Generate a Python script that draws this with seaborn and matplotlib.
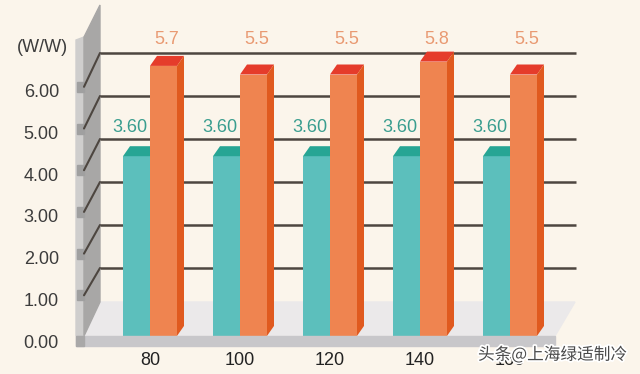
import pandas as pd
import matplotlib
matplotlib.use("Agg")
import matplotlib.pyplot as plt
import matplotlib.patheffects as pe
from matplotlib.patches import Polygon
from matplotlib.lines import Line2D
from matplotlib.transforms import Affine2D
import seaborn as sns

# data
categories = ["80", "100", "120", "140", "160"]
series_names = ["A", "B"]
values_a = [3.60, 3.60, 3.60, 3.60, 3.60]
values_b = [5.7, 5.5, 5.5, 5.8, 5.5]
labels_a = ["3.60", "3.60", "3.60", "3.60", "3.60"]
labels_b = ["5.7", "5.5", "5.5", "5.8", "5.5"]
front_ticks = [0, 1, 2, 3, 4, 5, 6]
front_tick_labels = ["0.00", "1.00", "2.00", "3.00", "4.00", "5.00", "6.00"]
grid_values = [1, 2, 3, 4, 5, 6]
unit_label = "(W/W)"
watermark = "头条@上海绿适制冷"

BG = "#fbf5eb"
TEAL, TEAL_TOP = "#5cbfbc", "#27a594"
ORANGE, ORANGE_TOP, ORANGE_SIDE = "#ef8450", "#e53c2b", "#e05a1f"
GRID = "#4d4640"
FLOOR = -0.58          # bars start at the front edge of the floor
DX, DY = 7 / 90, 10 / 43   # depth offset in data units

sns.set_style("white")
plt.rcParams["font.family"] = ["Liberation Sans", "DejaVu Sans"]

W, H = 640, 374
fig = plt.figure(figsize=(W / 100, H / 100), dpi=100, facecolor=BG)
# pixel coords, origin top-left
px = Affine2D().scale(1 / 100, -1 / 100).translate(0, H / 100) + fig.dpi_scale_trans

left_px, bottom_px = 70, 346
ax = fig.add_axes([left_px / W, (H - bottom_px) / H, 1 - left_px / W, bottom_px / H])
ax.set_facecolor("none")

df = pd.DataFrame({
    "cat": categories * 2,
    "val": values_a + values_b,
    "series": [series_names[0]] * len(categories) + [series_names[1]] * len(categories),
})
sns.barplot(data=df, x="cat", y="val", hue="series", order=categories,
            palette=[TEAL, ORANGE], width=0.6, saturation=1, legend=False,
            linewidth=0, ax=ax)

# back-wall scale: 0 at y=311px, 43 px per unit; group spacing 90 px
ax.set_xlim((left_px - 150) / 90, (W - 150) / 90)
ax.set_ylim((311 - bottom_px) / 43, 311 / 43)
for s in ax.spines.values():
    s.set_visible(False)
ax.tick_params(axis="x", length=0, pad=4, labelsize=13, labelcolor="#222222")
ax.set_yticks([])
ax.set_xlabel("")
ax.set_ylabel("")

# gridlines on the back wall
ax.hlines(grid_values, (100 - 150) / 90, (576 - 150) / 90, color=GRID, lw=1.8, zorder=0.5)

# floor, front strip and left wall
ax.add_patch(Polygon([(84, 336), (100, 302), (575, 302), (555, 336)], closed=True,
                     transform=px, color="#ebe9ea", zorder=1, clip_on=False))
ax.add_patch(Polygon([(76, 336), (555, 336), (555, 346), (76, 346)], closed=True,
                     transform=px, color="#c8c7ca", zorder=5, clip_on=False))
ax.add_patch(Polygon([(76, 40), (84, 37), (84, 336), (76, 336)], closed=True,
                     transform=px, color="#cfcecd", zorder=2, clip_on=False))
ax.add_patch(Polygon([(76, 336), (84, 336), (84, 346), (76, 346)], closed=True,
                     transform=px, color="#a9a8a8", zorder=5, clip_on=False))
ax.add_patch(Polygon([(84, 37), (100, 5), (100, 302), (84, 336)], closed=True,
                     transform=px, color="#a8a7a6", zorder=2, clip_on=False))
for v in grid_values:
    yf = 341 - 41.7 * v - 4
    ax.add_patch(Polygon([(77, yf - 5), (84, yf - 5), (84, yf + 5), (77, yf + 5)], closed=True,
                         transform=px, color="#a0a0a0", zorder=2.5, clip_on=False))
    ax.add_line(Line2D([84, 100], [yf, 311 - 43 * v], transform=px, color=GRID,
                       lw=1.5, zorder=2.6, clip_on=False))

# 3D bars
n = len(categories)
for i, p in enumerate(ax.patches[:2 * n]):
    first = i < n
    h = p.get_height()
    x0, w = p.get_x(), p.get_width()
    p.set_y(FLOOR)
    p.set_height(h - FLOOR)
    z = 3 if first else 4
    p.set_zorder(z)
    top_c = TEAL_TOP if first else ORANGE_TOP
    ax.add_patch(Polygon([(x0, h), (x0 + w, h), (x0 + w + DX, h + DY), (x0 + DX, h + DY)],
                         closed=True, color=top_c, zorder=z, lw=0))
    if not first:
        ax.add_patch(Polygon([(x0 + w, FLOOR), (x0 + w, h), (x0 + w + DX, h + DY),
                              (x0 + w + DX, FLOOR + DY)], closed=True,
                             color=ORANGE_SIDE, zorder=z, lw=0))
    cx = x0 + w / 2
    if first:
        ax.text(cx - 7 / 90, (311 - 127) / 43, labels_a[i], ha="center", va="center",
                fontsize=13, color="#3a9e8f", zorder=6)
    else:
        ax.text(cx + 3 / 90, (311 - 39) / 43, labels_b[i - n], ha="center", va="center",
                fontsize=13, color="#e99a72", zorder=6)

# front scale labels (0 at y=341px, 41.7 px per unit)
ax2 = ax.twinx()
ax2.set_ylim((341 - bottom_px) / 41.7, 341 / 41.7)
ax2.yaxis.tick_left()
ax2.set_yticks(front_ticks, front_tick_labels)
ax2.tick_params(axis="y", length=0, pad=8, labelsize=13, labelcolor="#3c3c3c")
for s in ax2.spines.values():
    s.set_visible(False)
ax2.set_facecolor("none")

fig.text(42, 48, unit_label, transform=px, ha="center", va="center",
         fontsize=13, color="#3c3c3c")
fig.text(478, 355, watermark, transform=px, ha="left", va="center", fontsize=12,
         color="#4a4a4a", family=["Noto Sans CJK SC", "DejaVu Sans"],
         path_effects=[pe.withStroke(linewidth=2.5, foreground="white")])

fig.savefig("out.png", dpi=100, facecolor=BG)
